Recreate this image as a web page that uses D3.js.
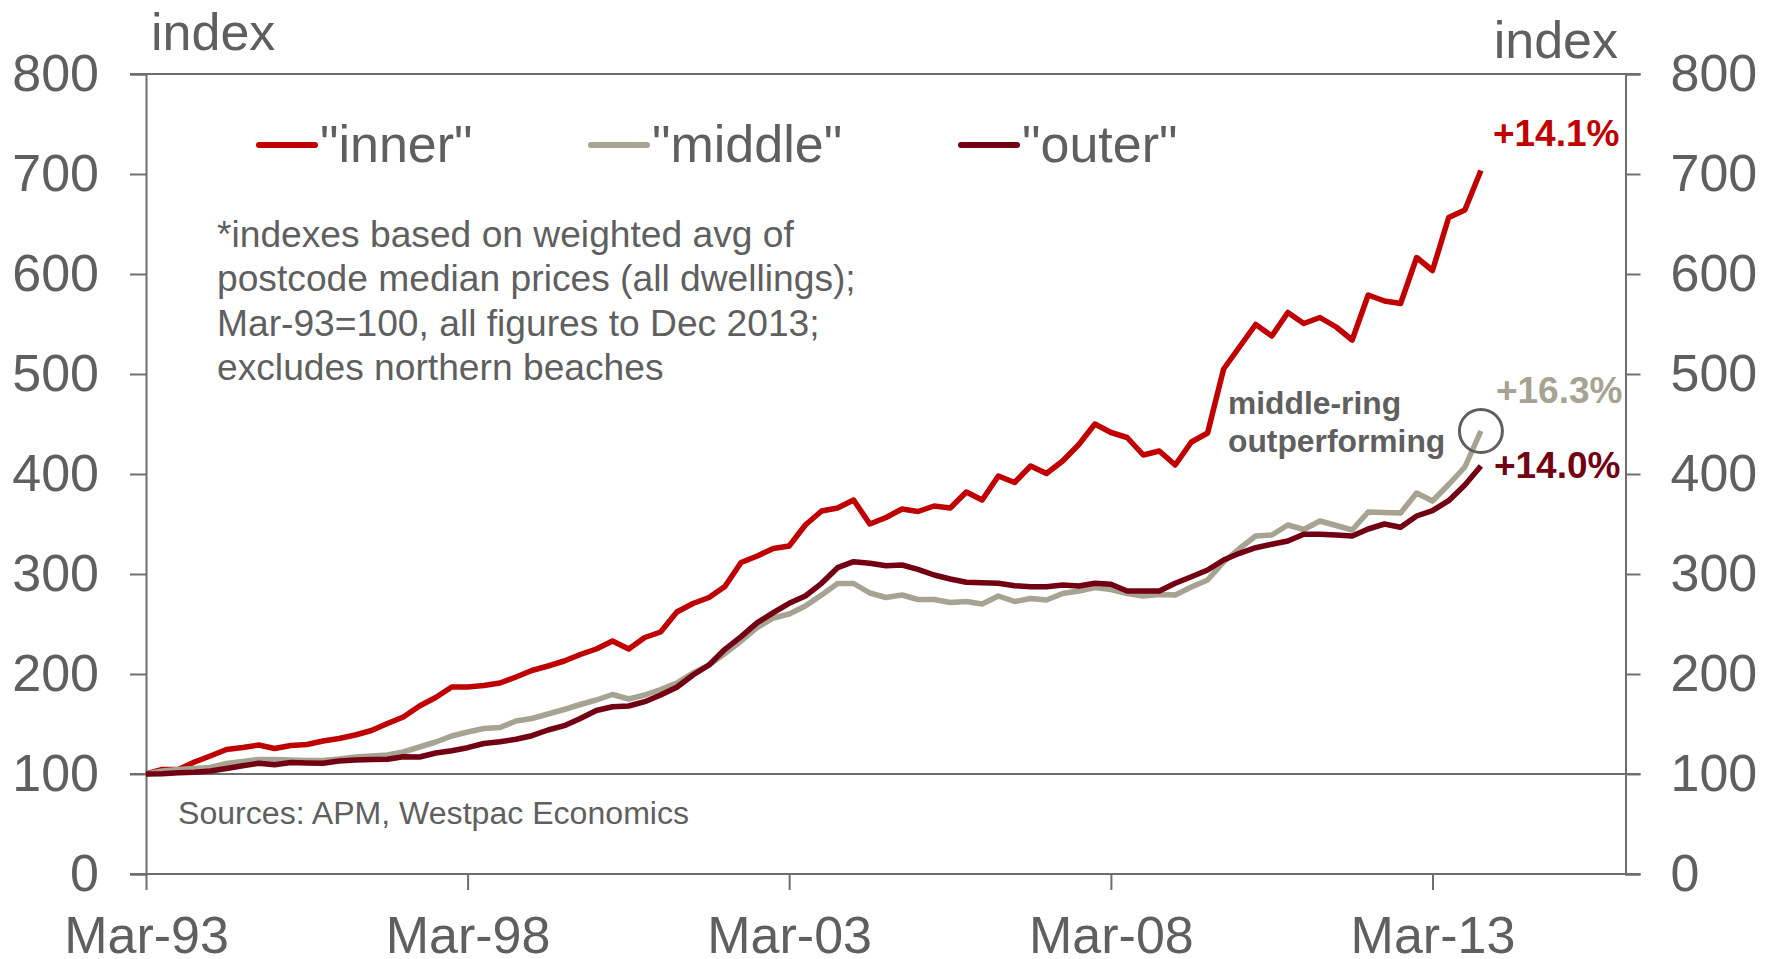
<!DOCTYPE html>
<html>
<head>
<meta charset="utf-8">
<script src="https://cdn.jsdelivr.net/npm/d3@7"></script>
<style>
  html, body { margin: 0; padding: 0; background: #ffffff; }
  svg { display: block; font-family: "Liberation Sans", Arial, sans-serif; }
</style>
</head>
<body>
<svg id="chart" width="1765" height="959"></svg>
<script>
// Sydney dwelling price indexes by ring, quarterly, Mar-93 to Dec-13 (Mar-93 = 100)
const startQuarter = new Date(1993, 2, 1);
const endAxis = new Date(2016, 2, 1);

const inner = [
  100, 104.5, 104.5, 112, 118, 124.5, 126.5, 129, 125.5, 128.5,
  129.5, 133, 135.5, 139, 143.5, 150.5, 157, 168, 176.5, 187,
  187, 188.5, 191, 197, 203.5, 208, 213, 219.5, 225, 233,
  225, 236.5, 242, 262, 270.5, 276.5, 287.5, 311.5, 318, 325.5,
  328, 349, 363, 366, 374, 350, 356.5, 365, 362.5, 368,
  366, 382, 374, 398, 391.5, 408, 400.5, 413, 429.5, 450,
  441.5, 436.5, 419, 423, 409, 432, 441, 505, 527, 549.5,
  538, 561.5, 550.5, 556.5, 547, 534, 579, 573, 570.5, 616.5,
  603.5, 656.5, 664, 703.5
];

const middle = [
  100, 103, 104.5, 105.5, 106.5, 110.5, 112.5, 114.5, 114.5, 114,
  113.5, 113.5, 115, 117, 118, 119, 122, 127, 132, 138,
  142, 145.5, 146.5, 153, 155.5, 160, 164.5, 169.5, 174, 179.5,
  175, 179, 184.5, 191, 201, 209, 220.5, 233, 246.5, 256,
  260, 268, 279, 290.5, 290.5, 281, 276.5, 279, 274.5, 274.5,
  271.5, 272.5, 270, 278, 272.5, 275.5, 274, 280.5, 283, 286.5,
  284.5, 280.5, 278, 279.5, 279, 287, 294, 312, 325.5, 338,
  339, 349, 344.5, 353, 348.5, 344, 362, 361.5, 361, 381,
  373, 389.5, 407, 443
];

const outer = [
  100, 100.3, 101.3, 101.7, 103, 105.5, 108.3, 110.7, 109.3, 111.5,
  111, 110.7, 113, 114, 114.5, 114.7, 117.3, 117, 121, 123.3,
  126.3, 130.5, 132.3, 134.7, 138.3, 144, 148.3, 155.5, 163.5, 167.3,
  168, 172.3, 179, 186.7, 199, 209, 224.7, 237.3, 251.3, 261.3,
  270.7, 278, 290.7, 306.3, 312.3, 310.7, 308.3, 309, 304.7, 299,
  295, 291.7, 291.3, 290.7, 288.3, 287.3, 287.3, 289, 288, 290.7,
  289.7, 283, 283, 283, 290.7, 297.3, 304, 314, 320.7, 326.3,
  329.7, 333, 339.7, 339.7, 339, 338, 345, 350, 346.7, 358,
  363.3, 373.3, 389, 408
];

const seriesNames = ['"inner"', '"middle"', '"outer"'];
const seriesColors = ["#c00000", "#a6a392", "#720012"];
const endLabels = ["+14.1%", "+16.3%", "+14.0%"];
const yTicks = [0, 100, 200, 300, 400, 500, 600, 700, 800];
const xTickDates = [new Date(1993, 2, 1), new Date(1998, 2, 1), new Date(2003, 2, 1),
                    new Date(2008, 2, 1), new Date(2013, 2, 1)];
const noteLines = [
  "*indexes based on weighted avg of",
  "postcode median prices (all dwellings);",
  "Mar-93=100, all figures to Dec 2013;",
  "excludes northern beaches"
];
const sourceText = "Sources: APM, Westpac Economics";
const calloutLines = ["middle-ring", "outperforming"];

const quarters = inner.map((_, i) => d3.timeMonth.offset(startQuarter, 3 * i));
const series = [inner, middle, outer];

const svg = d3.select("#chart");
const textGrey = "#5f5f5f";
const axisGrey = "#6e6e6e";

const plotLeft = 146, plotRight = 1625.5, plotTop = 74, plotBottom = 874;
const x = d3.scaleTime().domain([startQuarter, endAxis]).range([plotLeft, plotRight]);
const y = d3.scaleLinear().domain([0, 800]).range([plotBottom, plotTop]);

// horizontal rules at the top, at 100 and along the bottom
svg.append("g").selectAll("line")
  .data([800, 100, 0])
  .join("line")
  .attr("x1", plotLeft - 16).attr("x2", plotRight + 15)
  .attr("y1", d => y(d)).attr("y2", d => y(d))
  .attr("stroke", axisGrey).attr("stroke-width", 2);

// left axis
const yLeft = svg.append("g").attr("transform", `translate(${plotLeft},0)`)
  .call(d3.axisLeft(y).tickValues(yTicks).tickSize(16).tickPadding(31));
// right axis
const yRight = svg.append("g").attr("transform", `translate(${plotRight},0)`)
  .call(d3.axisRight(y).tickValues(yTicks).tickSize(15).tickPadding(30));
// bottom axis
const xAxis = svg.append("g").attr("transform", `translate(0,${plotBottom})`)
  .call(d3.axisBottom(x).tickValues(xTickDates).tickFormat(d3.timeFormat("%b-%y"))
        .tickSize(16).tickPadding(26));

[yLeft, yRight, xAxis].forEach(g => {
  g.select(".domain").attr("stroke", axisGrey).attr("stroke-width", 2);
  g.selectAll(".tick line").attr("stroke", axisGrey).attr("stroke-width", 2);
  g.selectAll(".tick text").attr("fill", textGrey).attr("font-size", 52)
    .attr("font-family", '"Liberation Sans", Arial, sans-serif');
});
xAxis.select(".domain").remove();
xAxis.selectAll(".tick text").attr("dy", "0.72em");

// axis titles
svg.append("text").attr("x", 151).attr("y", 50).attr("font-size", 52)
  .attr("fill", textGrey).text("index");
svg.append("text").attr("x", 1618).attr("y", 58).attr("font-size", 52)
  .attr("text-anchor", "end").attr("fill", textGrey).text("index");

// series lines
const line = d3.line().x((d, i) => x(quarters[i])).y(d => y(d));
svg.append("g").selectAll("path")
  .data(series)
  .join("path")
  .attr("d", d => line(d))
  .attr("fill", "none")
  .attr("stroke", (d, i) => seriesColors[i])
  .attr("stroke-width", 5.5)
  .attr("stroke-linejoin", "round")
  .attr("stroke-linecap", "butt");

// legend
const legendX = [259, 591, 961];
const legend = svg.append("g").selectAll("g")
  .data(seriesNames)
  .join("g")
  .attr("transform", (d, i) => `translate(${legendX[i]},145)`);
legend.append("line")
  .attr("x1", 0).attr("x2", 56).attr("y1", 0).attr("y2", 0)
  .attr("stroke", (d, i) => seriesColors[i])
  .attr("stroke-width", 6).attr("stroke-linecap", "round");
legend.append("text")
  .attr("x", 61).attr("y", 17).attr("font-size", 52).attr("fill", textGrey)
  .text(d => d);

// footnote
svg.append("g").selectAll("text")
  .data(noteLines)
  .join("text")
  .attr("x", 217).attr("y", (d, i) => 247 + i * 44.4)
  .attr("font-size", 37.2).attr("fill", textGrey)
  .text(d => d);

svg.append("text").attr("x", 178).attr("y", 824).attr("font-size", 32.1)
  .attr("fill", textGrey).text(sourceText);

// end-of-series growth labels
const last = inner.length - 1;
const labelOffsets = [[12, -25], [15, -28], [13, 12]];
svg.append("g").selectAll("text")
  .data(series)
  .join("text")
  .attr("x", (d, i) => x(quarters[last]) + labelOffsets[i][0])
  .attr("y", (d, i) => y(d[last]) + labelOffsets[i][1])
  .attr("font-size", 37).attr("font-weight", "bold")
  .attr("fill", (d, i) => seriesColors[i])
  .text((d, i) => endLabels[i]);

// callout on the middle ring
svg.append("circle")
  .attr("cx", x(quarters[last])).attr("cy", y(middle[last])).attr("r", 21.5)
  .attr("fill", "none").attr("stroke", textGrey).attr("stroke-width", 3);
svg.append("g").selectAll("text")
  .data(calloutLines)
  .join("text")
  .attr("x", 1228).attr("y", (d, i) => 414 + i * 37.5)
  .attr("font-size", 31.8).attr("font-weight", "bold").attr("fill", textGrey)
  .text(d => d);
</script>
</body>
</html>
